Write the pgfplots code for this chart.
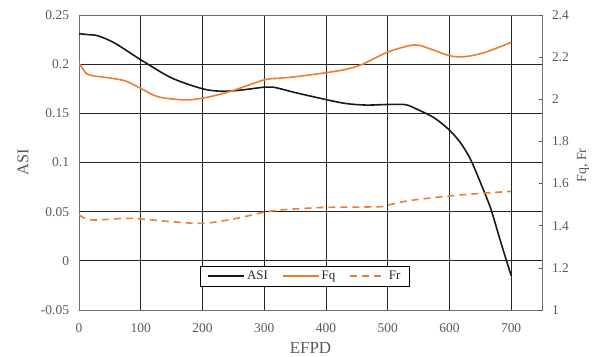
\documentclass[border=0pt]{standalone}
\usepackage{pgfplots}
\pgfplotsset{compat=1.18}
\usepackage{fontspec}
\setmainfont{Liberation Serif}
\definecolor{tickgray}{HTML}{595959}
\definecolor{fqorange}{HTML}{ED7D31}
\definecolor{framegray}{HTML}{6E6E6E}
\begin{document}
\begin{tikzpicture}
\path[use as bounding box] (-79bp,-47bp) rectangle (517bp,310bp);
\begin{axis}[
  scale only axis, width=463bp, height=295bp,
  xmin=0, xmax=750, ymin=-0.05, ymax=0.25,
  xtick={0,100,200,300,400,500,600,700},
  xticklabels={0,100,200,300,400,500,600,700},
  ytick={-0.05,0,0.05,0.1,0.15,0.2,0.25},
  yticklabels={-0.05,0,0.05,0.1,0.15,0.2,0.25},
  grid=major, major grid style={black!85, line width=0.75pt},
  axis line style={draw=framegray, line width=0.8pt},
  tick style={draw=none},
  ticklabel style={font=\fontsize{13.5}{15}\selectfont, text=tickgray},
  xticklabel style={anchor=base, yshift=-22bp},
  yticklabel style={xshift=-6.5bp},
  xlabel={EFPD}, ylabel={ASI},
  xlabel style={font=\fontsize{17}{19}\selectfont, text=tickgray, at={(axis description cs:0.5,0)}, anchor=base, yshift=-43bp},
  ylabel style={font=\fontsize{16.5}{18}\selectfont, text=tickgray, at={(axis description cs:-0.121,0.5)}, anchor=center},
]
\addplot[black!90, line width=1.6pt, smooth, tension=0.5] coordinates {
(0,0.231) (15,0.2300) (31,0.2288) (58,0.2214) (100,0.2045) (150,0.186)
(200,0.175) (230,0.1725) (260,0.1735) (300,0.1766) (315,0.1766) (351,0.171)
(400,0.164) (432,0.160) (465,0.1584) (500,0.159) (529,0.1588) (548,0.154)
(575,0.1456) (600,0.133) (618,0.120) (634,0.1035) (650,0.080) (667,0.053)
(683,0.0194) (700,-0.015)
};
\end{axis}
\begin{axis}[
  scale only axis, width=463bp, height=295bp,
  xmin=0, xmax=750, ymin=1, ymax=2.4,
  axis y line*=right, axis x line=none,
  ytick={1,1.2,1.4,1.6,1.8,2,2.2,2.4},
  yticklabels={1,1.2,1.4,1.6,1.8,2,2.2,2.4},
  axis line style={draw=framegray, line width=0.8pt},
  tick align=inside, major tick length=3bp,
  tick style={draw=tickgray, line width=0.6pt},
  ticklabel style={font=\fontsize{13.5}{15}\selectfont, text=tickgray},
  yticklabel style={xshift=6.5bp},
  ylabel={Fq, Fr},
  ylabel style={font=\fontsize{14}{16}\selectfont, text=tickgray, at={(axis description cs:1.0886,0.49)}, anchor=center},
  legend columns=3,
  legend style={at={(axis description cs:0.488,0.115)}, anchor=center,
    draw=black, line width=0.8pt, fill=white,
    font=\fontsize{13}{15}\selectfont, text=black!85,
    inner xsep=7bp, inner ysep=3bp,
    /tikz/every even column/.append style={column sep=12bp}},
  legend image code/.code={\draw[#1] (0bp,0bp) -- (36bp,0bp);},
]
\addlegendimage{black!90, line width=1.6pt}
\addlegendentry{ASI}
\addplot[fqorange, line width=1.6pt, smooth, tension=0.5] coordinates {
(0,2.171) (5,2.15) (12,2.122) (25,2.110) (40,2.105) (74,2.088) (100,2.052)
(128,2.012) (171,1.997) (200,2.005) (230,2.025) (252,2.044) (300,2.092)
(325,2.100) (351,2.107) (400,2.126) (432,2.142) (459,2.166) (500,2.224)
(543,2.258) (570,2.238) (600,2.207) (624,2.202) (656,2.221) (700,2.27)
};
\addlegendentry{Fq}
\addplot[fqorange, line width=1.6pt, dash pattern=on 7bp off 5bp, smooth, tension=0.5] coordinates {
(0,1.451) (10,1.435) (26,1.427) (74,1.435) (100,1.432) (150,1.419)
(200,1.411) (241,1.427) (273,1.446) (299,1.464) (327,1.475) (370,1.483)
(400,1.487) (486,1.490) (500,1.498) (535,1.519) (599,1.541) (653,1.554) (700,1.563)
};
\addlegendentry{Fr}
\end{axis}
\end{tikzpicture}
\end{document}
